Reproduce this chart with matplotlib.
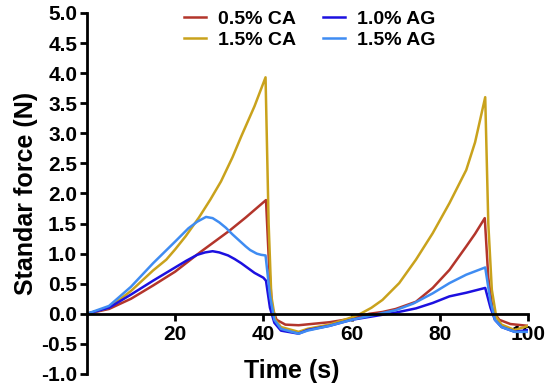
import numpy as np
import matplotlib.pyplot as plt

plt.rcParams['font.family'] = ['Liberation Sans', 'DejaVu Sans']
plt.rcParams['font.weight'] = 'bold'

# 0.5% CA
t_ca05 = [0, 5, 10, 15, 20, 25.8, 32.3, 36, 40.6, 41.3, 42, 43, 45, 48, 55, 60, 64, 67, 70,
          74.6, 78.4, 82.2, 86, 88, 90.2, 91, 92, 93.5, 96, 100]
f_ca05 = [0, 0.08, 0.25, 0.47, 0.7, 1.03, 1.38, 1.6, 1.89, 0.8, 0.1, -0.1, -0.18, -0.19, -0.14, -0.08, 0.0, 0.03, 0.08,
          0.2, 0.43, 0.73, 1.12, 1.33, 1.59, 0.6, 0.05, -0.1, -0.17, -0.2]

# 1.5% CA
t_ca15 = [0, 5, 10, 15, 18, 20, 22.4, 25.4, 28, 30.4, 33, 35, 38, 40.5, 41.2, 41.8, 42.7, 44, 48, 50, 55, 60, 62,
          64.5, 67, 70.8, 74.6, 78.4, 82.2, 86, 88, 90.3, 91, 91.8, 92.8, 94, 97, 100]
f_ca15 = [0, 0.1, 0.38, 0.72, 0.9, 1.07, 1.29, 1.6, 1.9, 2.2, 2.6, 2.95, 3.45, 3.93, 1.5, 0.3, -0.1, -0.22, -0.3, -0.25, -0.18, -0.06, 0.0,
          0.1, 0.23, 0.51, 0.9, 1.34, 1.84, 2.39, 2.85, 3.6, 1.5, 0.4, -0.05, -0.18, -0.27, -0.2]

# 1.0% AG
t_ag10 = [0, 5, 10, 15, 20, 22.5, 25, 26.8, 28.5, 30, 32, 33.5, 35, 36.5, 38, 40, 40.6, 41.5, 42.5, 44, 48, 50, 55, 60, 65, 70,
          74.6, 78.4, 82.2, 86, 90.3, 91.5, 92.5, 94, 97, 100]
f_ag10 = [0, 0.1, 0.32, 0.55, 0.77, 0.88, 0.98, 1.02, 1.04, 1.02, 0.97, 0.91, 0.84, 0.76, 0.68, 0.6, 0.55, 0.1, -0.15, -0.28, -0.33, -0.27, -0.2, -0.1, -0.04, 0.02,
          0.09, 0.18, 0.29, 0.35, 0.43, 0.1, -0.1, -0.22, -0.3, -0.27]

# 1.5% AG
t_ag15 = [0, 5, 10, 15, 20, 23, 25, 27, 28.5, 30, 31.5, 33, 34.5, 36, 37, 38.5, 39.5, 40.5, 41.5, 42.5, 44, 48, 50, 55, 60, 65, 70,
          74, 78.4, 82.2, 86, 90.3, 91.5, 92.5, 94, 97, 100]
f_ag15 = [0, 0.13, 0.45, 0.84, 1.2, 1.42, 1.53, 1.61, 1.59, 1.52, 1.43, 1.32, 1.22, 1.12, 1.06, 1.0, 0.98, 0.97, 0.3, -0.1, -0.25, -0.33, -0.28, -0.2, -0.1, -0.02, 0.06,
          0.17, 0.34, 0.51, 0.65, 0.77, 0.2, -0.1, -0.22, -0.3, -0.3]

fig = plt.figure(figsize=(5.5, 3.92), dpi=100)
ax = fig.add_axes([0.158, 0.046, 0.802, 0.921])

l1, = ax.plot(t_ca05, f_ca05, color='#b3352b', lw=1.8, label='0.5% CA')
l2, = ax.plot(t_ca15, f_ca15, color='#c9a21c', lw=1.8, label='1.5% CA')
l3, = ax.plot(t_ag10, f_ag10, color='#1c10e0', lw=1.8, label='1.0% AG')
l4, = ax.plot(t_ag15, f_ag15, color='#3f8cf2', lw=1.8, label='1.5% AG')

ax.set_xlim(0, 100)
ax.set_ylim(-1, 5)
ax.set_yticks(np.arange(-1, 5.01, 0.5))
ax.set_yticklabels(['%.1f' % v for v in np.arange(-1, 5.01, 0.5)])
ax.set_xticks([20, 40, 60, 80, 100])

ax.spines['top'].set_visible(False)
ax.spines['right'].set_visible(False)
ax.spines['bottom'].set_position(('data', 0))
ax.spines['left'].set_linewidth(2)
ax.spines['bottom'].set_linewidth(2)
ax.tick_params(width=2, length=5, labelsize=15)
ax.tick_params(axis='x', pad=3)
ax.tick_params(axis='y', pad=2)

ax.set_ylabel('Standar force (N)', fontsize=18, fontweight='bold', labelpad=2)
ax.set_xlabel('Time (s)', fontsize=18, fontweight='bold')
ax.xaxis.set_label_coords(0.465, 0.042)

ax.legend(handles=[l1, l2, l3, l4], ncol=2, frameon=False, loc='upper center',
          bbox_to_anchor=(0.505, 1.055), fontsize=14, handlelength=1.15, handletextpad=0.6,
          columnspacing=1.4, labelspacing=0.15)

fig.savefig('out.png', dpi=100)
